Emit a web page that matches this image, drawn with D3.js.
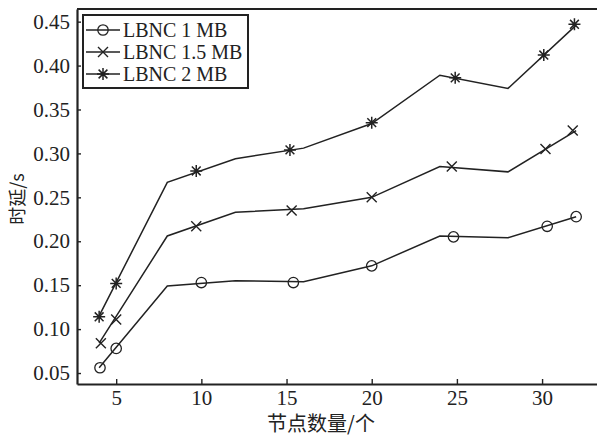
<!DOCTYPE html>
<html>
<head>
<meta charset="utf-8">
<script src="https://cdn.jsdelivr.net/npm/d3@7"></script>
<style>
  body { margin: 0; background: #fff; }
  svg text { font-family: "Liberation Serif", "DejaVu Serif", serif; fill: #222; }
  .cjk { font-family: "Noto Sans CJK SC", sans-serif; }
</style>
</head>
<body>
<svg id="chart"></svg>
<script>
// data
const seriesNames = ['LBNC 1 MB', 'LBNC 1.5 MB', 'LBNC 2 MB']
const seriesMarkers = ['circle', 'cross', 'star']

// line vertices (every 4 nodes)
const lineX = [4, 8, 12, 16, 20, 24, 28, 32]
const line1 = [0.056, 0.149, 0.155, 0.154, 0.172, 0.206, 0.204, 0.228]
const line15 = [0.084, 0.206, 0.233, 0.237, 0.250, 0.285, 0.279, 0.326]
const line2 = [0.115, 0.267, 0.294, 0.306, 0.334, 0.389, 0.374, 0.446]

// marker positions
const markX1 = [4.05, 5, 10, 15.4, 20, 24.8, 30.3, 32]
const markY1 = [0.056, 0.078, 0.153, 0.153, 0.172, 0.205, 0.217, 0.228]
const markX15 = [4.1, 5, 9.7, 15.3, 20, 24.7, 30.2, 31.8]
const markY15 = [0.084, 0.111, 0.217, 0.235, 0.250, 0.285, 0.305, 0.326]
const markX2 = [4, 5, 9.7, 15.2, 20, 24.9, 30.1, 31.9]
const markY2 = [0.114, 0.152, 0.280, 0.304, 0.335, 0.386, 0.412, 0.447]

const xTicks = [5, 10, 15, 20, 25, 30]
const yTicks = [0.05, 0.10, 0.15, 0.20, 0.25, 0.30, 0.35, 0.40, 0.45]
const xTitle = '节点数量/个'
const yTitle = '时延/s'

// constants
const width = 597
const height = 437
const margin = { left: 77, right: -3, top: 9, bottom: 53 }
const ink = '#222'

const svg = d3.select('svg#chart').attr('width', width).attr('height', height)

const x = d3.scaleLinear().domain([2.7, 33.4]).range([margin.left, width - margin.right])
const y = d3.scaleLinear().domain([0.0375, 0.4644]).range([height - margin.bottom, margin.top])

const lines = [line1, line15, line2]
const marks = [[markX1, markY1], [markX15, markY15], [markX2, markY2]]

// axes
const xAxis = svg.append('g')
  .attr('transform', 'translate(0,' + (height - margin.bottom) + ')')
  .call(d3.axisBottom(x).tickValues(xTicks).tickFormat(d3.format('d')).tickSizeInner(-5).tickSizeOuter(0).tickPadding(6))
const yAxis = svg.append('g')
  .attr('transform', 'translate(' + margin.left + ',0)')
  .call(d3.axisLeft(y).tickValues(yTicks).tickFormat(d3.format('.2f')).tickSizeInner(-4).tickSizeOuter(0).tickPadding(7))

;[xAxis, yAxis].forEach(a => {
  a.select('.domain').attr('stroke', ink).attr('stroke-width', 2.2)
  a.selectAll('.tick line').attr('stroke', ink).attr('stroke-width', 1.4)
  a.selectAll('.tick text').attr('font-size', 21).attr('fill', ink)
    .style('font-family', '"Liberation Serif", serif')
})

// top frame
svg.append('line')
  .attr('x1', x.range()[0]).attr('x2', x.range()[1])
  .attr('y1', y.range()[1]).attr('y2', y.range()[1])
  .attr('stroke', ink).attr('stroke-width', 2.2)

// markers
function drawMarker(g, type, cx, cy) {
  if (type === 'circle') {
    g.append('circle').attr('cx', cx).attr('cy', cy).attr('r', 5.2)
      .attr('fill', 'none').attr('stroke', ink).attr('stroke-width', 1.3)
  } else if (type === 'cross') {
    const s = 5
    g.append('path').attr('d', `M${cx - s},${cy - s}L${cx + s},${cy + s}M${cx - s},${cy + s}L${cx + s},${cy - s}`)
      .attr('stroke', ink).attr('stroke-width', 1.4).attr('fill', 'none')
  } else {
    const s = 6, d = 4.4
    g.append('path').attr('d', `M${cx},${cy - s}L${cx},${cy + s}M${cx - s},${cy}L${cx + s},${cy}` +
      `M${cx - d},${cy - d}L${cx + d},${cy + d}M${cx - d},${cy + d}L${cx + d},${cy - d}`)
      .attr('stroke', ink).attr('stroke-width', 1.5).attr('fill', 'none')
  }
}

const line = d3.line().x((d, i) => x(lineX[i])).y(d => y(d))
const plot = svg.append('g')
lines.forEach((vals, k) => {
  plot.append('path').datum(vals).attr('d', line)
    .attr('fill', 'none').attr('stroke', ink).attr('stroke-width', 1.5)
  const [mx, my] = marks[k]
  mx.forEach((v, i) => drawMarker(plot, seriesMarkers[k], x(v), y(my[i])))
})

// legend
const leg = svg.append('g').attr('transform', 'translate(83,15)')
leg.append('rect').attr('width', 165).attr('height', 73)
  .attr('fill', '#fff').attr('stroke', ink).attr('stroke-width', 2)
seriesNames.forEach((name, k) => {
  const cy = 15 + k * 22
  leg.append('line').attr('x1', 3).attr('x2', 37).attr('y1', cy).attr('y2', cy)
    .attr('stroke', ink).attr('stroke-width', 1.5)
  drawMarker(leg, seriesMarkers[k], 20, cy)
  leg.append('text').attr('x', 40).attr('y', cy).attr('dy', '0.35em')
    .attr('font-size', 20).text(name)
})

// axis titles
svg.append('text').attr('class', 'cjk')
  .attr('x', 321).attr('y', 431)
  .attr('text-anchor', 'middle').attr('font-size', 20).text(xTitle)
svg.append('text').attr('class', 'cjk')
  .attr('transform', 'translate(24,' + 199 + ') rotate(-90)')
  .attr('text-anchor', 'middle').attr('font-size', 18).text(yTitle)
</script>
</body>
</html>
